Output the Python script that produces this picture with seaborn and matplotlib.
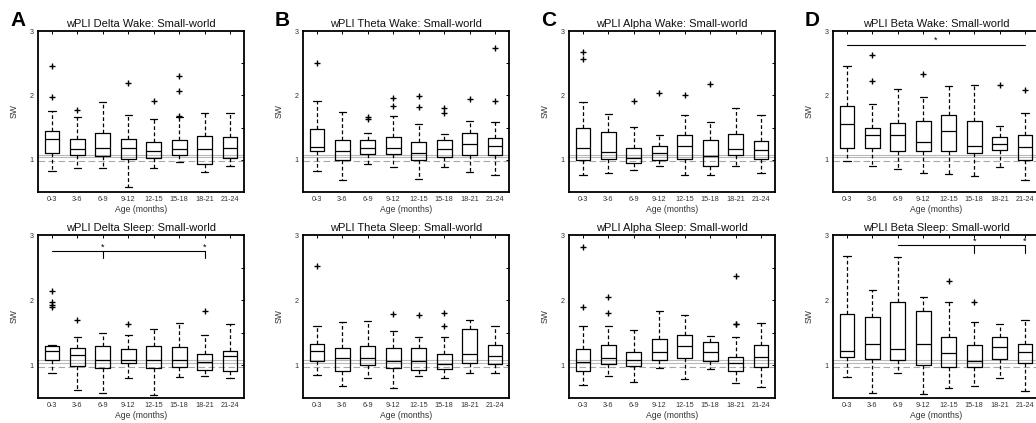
import numpy as np
import pandas as pd
import matplotlib
matplotlib.use("Agg")
import matplotlib.pyplot as plt
from matplotlib.ticker import FixedLocator
import seaborn as sns

ages = ["0-3", "3-6", "6-9", "9-12", "12-15", "15-18", "18-21", "21-24"]

# five-number summaries per age group: [lower whisker, Q1, median, Q3, upper whisker]
delta_wake = [[0.82, 1.10, 1.32, 1.45, 1.75], [0.87, 1.07, 1.16, 1.33, 1.66],
              [0.87, 1.06, 1.18, 1.41, 1.90], [0.57, 1.02, 1.18, 1.33, 1.70],
              [0.88, 1.03, 1.13, 1.28, 1.63], [0.96, 1.07, 1.16, 1.30, 1.67],
              [0.81, 0.94, 1.16, 1.37, 1.72], [0.91, 1.03, 1.19, 1.35, 1.73]]
delta_wake_out = [[1.98, 2.45], [1.77], [], [2.19], [1.91], [1.68, 2.07, 2.30], [], []]

delta_sleep = [[0.89, 1.09, 1.22, 1.30, 1.31], [0.62, 0.99, 1.16, 1.26, 1.44],
               [0.58, 0.96, 1.08, 1.29, 1.50], [0.81, 1.03, 1.08, 1.25, 1.47],
               [0.55, 0.96, 1.08, 1.29, 1.56], [0.82, 0.98, 1.08, 1.28, 1.65],
               [0.84, 0.93, 1.05, 1.17, 1.47], [0.81, 0.92, 1.14, 1.22, 1.63]]
delta_sleep_out = [[1.89, 1.93, 1.97, 2.14], [1.69], [], [1.64], [], [], [1.83], []]

theta_wake = [[0.82, 1.13, 1.20, 1.48, 1.92], [0.69, 1.00, 1.14, 1.31, 1.74],
              [0.94, 1.09, 1.19, 1.30, 1.41], [0.89, 1.09, 1.19, 1.36, 1.68],
              [0.70, 1.00, 1.11, 1.28, 1.55], [0.89, 1.05, 1.16, 1.30, 1.40],
              [0.81, 1.08, 1.25, 1.41, 1.61], [0.76, 1.08, 1.22, 1.34, 1.58]]
theta_wake_out = [[2.51], [], [1.63, 1.67], [1.83, 1.96], [1.82, 1.99], [1.72, 1.80], [1.95], [1.91, 2.74]]

theta_sleep = [[0.86, 1.06, 1.22, 1.33, 1.60], [0.68, 0.92, 1.12, 1.27, 1.66],
               [0.80, 1.01, 1.12, 1.30, 1.68], [0.66, 0.96, 1.06, 1.27, 1.52],
               [0.83, 0.93, 1.06, 1.26, 1.44], [0.81, 0.95, 1.02, 1.18, 1.43],
               [0.88, 1.04, 1.18, 1.56, 1.70], [0.89, 1.02, 1.15, 1.31, 1.61]]
theta_sleep_out = [[2.52], [], [], [1.79], [1.78], [1.60, 1.80], [], []]

alpha_wake = [[0.77, 1.00, 1.18, 1.50, 1.90], [0.80, 1.01, 1.12, 1.43, 1.71],
              [0.84, 0.95, 1.03, 1.19, 1.51], [0.91, 0.99, 1.10, 1.22, 1.38],
              [0.76, 1.02, 1.22, 1.38, 1.70], [0.76, 0.90, 1.06, 1.31, 1.59],
              [0.90, 1.07, 1.17, 1.40, 1.81], [0.79, 1.02, 1.15, 1.29, 1.69]]
alpha_wake_out = [[2.57, 2.68], [], [1.91], [2.03], [2.00], [2.18], [], []]

alpha_sleep = [[0.70, 0.91, 1.05, 1.25, 1.60], [0.84, 1.02, 1.11, 1.31, 1.61],
               [0.75, 0.99, 1.09, 1.20, 1.54], [0.96, 1.09, 1.20, 1.41, 1.83],
               [0.79, 1.12, 1.30, 1.46, 1.77], [0.95, 1.07, 1.21, 1.36, 1.45],
               [0.73, 0.91, 1.03, 1.13, 1.43], [0.67, 0.97, 1.13, 1.31, 1.65]]
alpha_sleep_out = [[1.90, 2.81], [1.80, 2.05], [], [], [], [], [1.63, 1.64, 2.37], []]

beta_wake = [[0.98, 1.19, 1.55, 1.84, 2.45], [0.91, 1.18, 1.38, 1.49, 1.87],
             [0.85, 1.14, 1.39, 1.57, 2.10], [0.80, 1.14, 1.28, 1.61, 1.98],
             [0.78, 1.13, 1.44, 1.69, 2.14], [0.75, 1.10, 1.22, 1.61, 2.16],
             [0.89, 1.15, 1.25, 1.36, 1.53], [0.68, 1.00, 1.20, 1.39, 1.73]]
beta_wake_out = [[], [2.22, 2.63], [], [2.33], [], [], [2.16], [2.08]]

beta_sleep = [[0.82, 1.13, 1.22, 1.79, 2.68], [0.58, 1.10, 1.33, 1.75, 2.15],
              [0.89, 1.09, 1.25, 1.97, 2.66], [0.56, 1.01, 1.33, 1.83, 2.05],
              [0.65, 0.97, 1.19, 1.43, 1.97], [0.69, 0.97, 1.07, 1.32, 1.66],
              [0.80, 1.10, 1.28, 1.44, 1.64], [0.61, 1.04, 1.21, 1.33, 1.69]]
beta_sleep_out = [[], [], [], [], [2.29], [1.98], [], []]

# reference (random-network) band lines
ref_solid = [1.08, 1.04]
ref_dashed = [0.98]

# significance annotations: (bar start, bar end, bar level, tick groups, tick bottom, star groups, star level)
delta_sleep_sig = ("0-3", "18-21", 2.75, ["6-9", "18-21"], 2.65, ["6-9", "18-21"], 2.81)
beta_wake_sig = ("0-3", "21-24", 2.79, [], None, ["mid"], 2.85)
beta_sleep_sig = ("6-9", "21-24", 2.84, ["15-18", "21-24"], 2.73, ["15-18", "21-24"], 2.90)

sns.set_theme(style="white")
plt.rcParams["font.family"] = ["Liberation Sans", "DejaVu Sans"]

fig = plt.figure(figsize=(10.36, 4.23), dpi=100)
W, H = 1036.0, 423.0
col_left = [38, 303, 569, 833]
ax_w = 206
row_top = [31, 235]
ax_h = [161, 163]

panels = [
    ("A", 0, 0, "wPLI Delta Wake: Small-world", delta_wake, delta_wake_out, None),
    ("", 1, 0, "wPLI Delta Sleep: Small-world", delta_sleep, delta_sleep_out, delta_sleep_sig),
    ("B", 0, 1, "wPLI Theta Wake: Small-world", theta_wake, theta_wake_out, None),
    ("", 1, 1, "wPLI Theta Sleep: Small-world", theta_sleep, theta_sleep_out, None),
    ("C", 0, 2, "wPLI Alpha Wake: Small-world", alpha_wake, alpha_wake_out, None),
    ("", 1, 2, "wPLI Alpha Sleep: Small-world", alpha_sleep, alpha_sleep_out, None),
    ("D", 0, 3, "wPLI Beta Wake: Small-world", beta_wake, beta_wake_out, beta_wake_sig),
    ("", 1, 3, "wPLI Beta Sleep: Small-world", beta_sleep, beta_sleep_out, beta_sleep_sig),
]

txt_col = "#333333"

for letter, r, c, title, summ, outs, sig in panels:
    left = col_left[c] / W
    bottom = 1 - (row_top[r] + ax_h[r]) / H
    ax = fig.add_axes([left, bottom, ax_w / W, ax_h[r] / H])

    rows = []
    for age, vals in zip(ages, summ):
        for v in vals:
            rows.append({"age": age, "sw": v})
    df = pd.DataFrame(rows)

    for y in ref_solid:
        ax.axhline(y, color="#b8b8b8", lw=0.8, zorder=0)
    for y in ref_dashed:
        ax.axhline(y, color="#a8a8a8", lw=0.8, ls=(0, (6, 3)), zorder=0)

    sns.boxplot(data=df, x="age", y="sw", order=ages, ax=ax, whis=np.inf,
                fill=False, color="black", width=0.58, linewidth=0.9,
                showfliers=False, capwidths=0.28,
                whiskerprops={"linestyle": (0, (3, 2))})

    ox, oy = [], []
    for i, o in enumerate(outs):
        for v in o:
            ox.append(i)
            oy.append(v)
    if ox:
        sns.scatterplot(x=ox, y=oy, ax=ax, marker="+", color="black", s=20,
                        linewidth=1.0, legend=False, zorder=5)

    if sig is not None:
        s0, s1, ylev, tick_groups, tick_bot, star_groups, star_y = sig
        x0, x1 = ages.index(s0), ages.index(s1)
        ax.plot([x0, x1], [ylev, ylev], color="black", lw=0.8)
        for g in tick_groups:
            xi = ages.index(g)
            ax.plot([xi, xi], [tick_bot, ylev], color="black", lw=0.8)
        for g in star_groups:
            xi = (x0 + x1) / 2 if g == "mid" else ages.index(g)
            ax.text(xi, star_y, "*", ha="center", va="center", fontsize=6.5, color="black")

    ax.set_xlim(-0.55, 7.55)
    ax.set_ylim(0.5, 3)
    ax.yaxis.set_major_locator(FixedLocator([1, 2, 3]))
    ax.yaxis.set_minor_locator(FixedLocator([1.5, 2.5]))
    ax.set_xticks(range(len(ages)))
    ax.set_xticklabels(ages)
    ax.tick_params(axis="both", which="both", direction="in", top=True, right=True,
                   length=2.5, width=0.7, labelsize=5.2, labelcolor=txt_col, pad=3,
                   color="black")
    ax.tick_params(axis="y", which="minor", labelleft=False)
    for sp in ax.spines.values():
        sp.set_linewidth(1.3)
        sp.set_color("black")
        sp.set_visible(True)
    ax.set_xlabel("Age (months)", fontsize=6.2, color=txt_col, labelpad=1)
    ax.set_ylabel("SW", fontsize=6.2, color=txt_col, labelpad=8)
    ax.set_title(title, fontsize=8, color="#111111", pad=3)

    if letter:
        fig.text((col_left[c] - 28) / W, 1 - 26 / H, letter, fontsize=15,
                 fontweight="bold", color="black", ha="left", va="baseline")

fig.savefig("out.png", dpi=100)
